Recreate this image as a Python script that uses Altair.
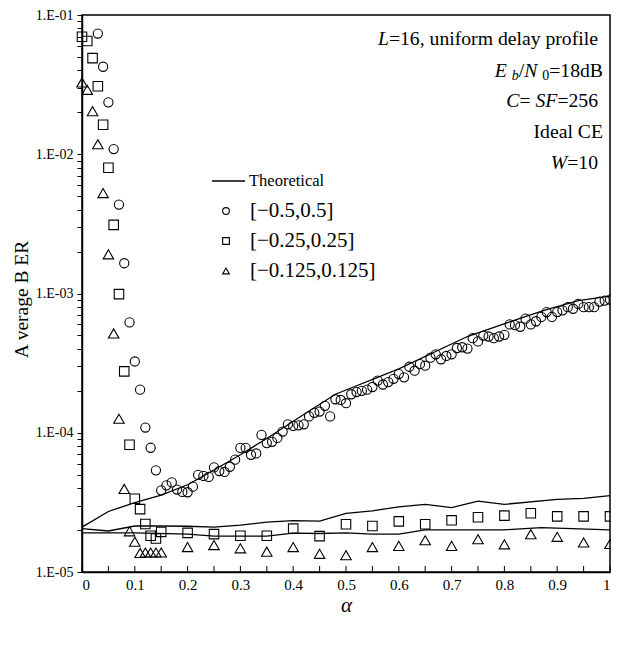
import altair as alt
import pandas as pd

# ---------------- data ----------------
circ_alpha = [round(0.03 + 0.01 * i, 2) for i in range(98)]
circ_ber = [7.36e-2, 4.25e-2, 2.36e-2, 1.09e-2, 4.35e-3, 1.65e-3, 6.2e-4, 3.25e-4, 2.04e-4, 1.09e-4,
            7.8e-5, 5.37e-5, 3.86e-5, 4.19e-5, 4.40e-5, 3.91e-5, 3.76e-5, 3.74e-5, 4.10e-5, 4.98e-5,
            4.90e-5, 4.82e-5, 5.64e-5, 5.31e-5, 5.23e-5, 5.70e-5, 6.41e-5, 7.78e-5, 7.78e-5, 6.95e-5,
            7.10e-5, 9.65e-5, 8.43e-5, 8.61e-5, 9.18e-5, 1.02e-4, 1.15e-4, 1.12e-4, 1.13e-4, 1.15e-4,
            1.31e-4, 1.39e-4, 1.42e-4, 1.56e-4, 1.31e-4, 1.74e-4, 1.72e-4, 1.63e-4, 1.89e-4, 1.96e-4,
            2.00e-4, 2.04e-4, 2.13e-4, 2.37e-4, 2.22e-4, 2.31e-4, 2.44e-4, 2.64e-4, 2.50e-4, 2.98e-4,
            2.79e-4, 3.11e-4, 3.03e-4, 3.46e-4, 3.66e-4, 3.37e-4, 3.56e-4, 3.66e-4, 4.06e-4, 4.11e-4,
            4.02e-4, 4.78e-4, 4.53e-4, 4.99e-4, 4.91e-4, 4.78e-4, 4.91e-4, 5.05e-4, 6.00e-4, 5.93e-4,
            5.77e-4, 6.60e-4, 6.00e-4, 6.32e-4, 6.79e-4, 7.36e-4, 6.79e-4, 7.36e-4, 7.57e-4, 7.98e-4,
            7.77e-4, 8.42e-4, 7.98e-4, 7.98e-4, 7.98e-4, 8.75e-4, 8.89e-4, 9.04e-4]

sq_alpha = [0.0, 0.01, 0.02, 0.03, 0.04, 0.05, 0.06, 0.07, 0.08, 0.09, 0.10, 0.11, 0.12, 0.13, 0.14, 0.15,
            0.20, 0.25, 0.30, 0.35, 0.40, 0.45, 0.50, 0.55, 0.60, 0.65, 0.70, 0.75, 0.80, 0.85, 0.90, 0.95, 1.0]
sq_ber = [6.98e-2, 6.5e-2, 4.9e-2, 3.08e-2, 1.63e-2, 8.0e-3, 3.11e-3, 9.9e-4, 2.76e-4, 8.2e-5,
          3.36e-5, 2.83e-5, 2.21e-5, 1.82e-5, 1.74e-5, 1.94e-5,
          1.91e-5, 1.87e-5, 1.82e-5, 1.82e-5, 2.05e-5, 1.81e-5, 2.20e-5, 2.14e-5, 2.31e-5, 2.20e-5,
          2.35e-5, 2.47e-5, 2.54e-5, 2.64e-5, 2.51e-5, 2.51e-5, 2.51e-5]

tri_alpha = list(sq_alpha)
tri_ber = [3.28e-2, 2.9e-2, 2.04e-2, 1.18e-2, 5.26e-3, 1.91e-3, 5.17e-4, 1.26e-4, 3.95e-5, 1.96e-5,
           1.65e-5, 1.37e-5, 1.38e-5, 1.38e-5, 1.38e-5, 1.38e-5,
           1.51e-5, 1.56e-5, 1.48e-5, 1.40e-5, 1.51e-5, 1.35e-5, 1.32e-5, 1.51e-5, 1.54e-5, 1.69e-5,
           1.54e-5, 1.72e-5, 1.58e-5, 1.87e-5, 1.79e-5, 1.63e-5, 1.59e-5]

th1_alpha = [0.0, 0.05, 0.10, 0.15, 0.20, 0.25, 0.30, 0.35, 0.40, 0.48, 0.60, 0.73, 0.81, 0.875, 0.94, 1.0]
th1_ber = [2.10e-5, 2.72e-5, 3.15e-5, 3.56e-5, 4.23e-5, 5.40e-5, 6.95e-5, 9.10e-5, 1.21e-4, 1.89e-4,
           2.88e-4, 4.91e-4, 6.25e-4, 7.56e-4, 8.89e-4, 9.59e-4]

th2_alpha = [0.0, 0.05, 0.10, 0.15, 0.20, 0.25, 0.30, 0.35, 0.40, 0.45, 0.50, 0.55, 0.60, 0.65, 0.70,
             0.75, 0.80, 0.90, 0.95, 1.0]
th2_ber = [2.05e-5, 1.97e-5, 2.14e-5, 2.14e-5, 2.13e-5, 2.10e-5, 2.17e-5, 2.28e-5, 2.34e-5, 2.32e-5,
           2.64e-5, 2.75e-5, 2.94e-5, 3.06e-5, 2.90e-5, 3.23e-5, 3.06e-5, 3.32e-5, 3.38e-5, 3.54e-5]

th3_alpha = [0.0, 0.10, 0.20, 0.25, 0.30, 0.35, 0.40, 0.45, 0.50, 0.55, 0.60, 0.65, 0.70, 0.80, 0.87, 1.0]
th3_ber = [1.91e-5, 1.91e-5, 1.87e-5, 1.81e-5, 1.81e-5, 1.81e-5, 1.90e-5, 1.89e-5, 1.91e-5, 1.87e-5,
           1.87e-5, 2.01e-5, 2.01e-5, 2.01e-5, 2.08e-5, 2.01e-5]

series_labels = ["[\u22120.5,0.5]", "[\u22120.25,0.25]", "[\u22120.125,0.125]"]
theory_label = "Theoretical"
x_tick_labels = [0, 0.1, 0.2, 0.3, 0.4, 0.5, 0.6, 0.7, 0.8, 0.9, 1]
x_minor_ticks = [round(0.05 * i, 2) for i in range(21)]
y_tick_values = [float(f"{m}e{e}") for e in range(-5, -1) for m in range(1, 10)] + [0.1]

annot_lines = [
    [("L", "i", 0), (" =16, uniform delay profile", "n", 0)],
    [("E", "i", 0), (" ", "n", 0), ("b", "i", 1), ("/", "n", 0), ("N", "i", 0), (" ", "n", 0),
     ("0", "n", 1), ("=18dB", "n", 0)],
    [("C", "i", 0), (" =", "n", 0), ("SF", "i", 0), (" =256", "n", 0)],
    [("Ideal CE", "n", 0)],
    [("W", "i", 0), (" =10", "n", 0)],
]

# ---------------- layout ----------------
W, H = 528, 557
FONT = "Liberation Serif"
AFS, SFS = 19.7, 14          # annotation font size, subscript size
ANNOT_RIGHT = 521            # right edge of the annotation block (plot px)
ANNOT_Y = [24, 56, 86, 117, 148]

REG = {' ': 250, ',': 250, '.': 250, '/': 278, '=': 564, 'B': 667, 'C': 667, 'D': 722, 'E': 611,
       'I': 333, 'a': 444, 'b': 500, 'd': 500, 'e': 444, 'f': 333, 'i': 278, 'l': 278, 'm': 778,
       'n': 500, 'o': 500, 'p': 500, 'r': 333, 'u': 500, 'y': 500, 'c': 444, 't': 278}
ITA = {'L': 556, 'E': 611, 'N': 667, 'C': 667, 'S': 500, 'F': 611, 'W': 833, 'b': 500}


def seg_width(text, style, size):
    tab = ITA if style == "i" else REG
    return sum(tab.get(ch, REG.get(ch, 500)) for ch in text) / 1000.0 * size


rows = []
for line, ly in zip(annot_lines, ANNOT_Y):
    sizes = [SFS if sub else AFS for _, _, sub in line]
    total = sum(seg_width(t, s, fs) for (t, s, _), fs in zip(line, sizes))
    x = ANNOT_RIGHT - total
    for (t, s, sub), fs in zip(line, sizes):
        rows.append({"px": x, "py": ly + (5 if sub else 0), "txt": t, "st": s, "fs": fs})
        x += seg_width(t, s, fs)
annot_df = pd.DataFrame(rows)

# ---------------- data frames ----------------
circ_df = pd.DataFrame({"alpha": circ_alpha, "ber": circ_ber})
sq_df = pd.DataFrame({"alpha": sq_alpha, "ber": sq_ber})
tri_df = pd.DataFrame({"alpha": tri_alpha, "ber": tri_ber})
th_df = pd.concat([
    pd.DataFrame({"alpha": th1_alpha, "ber": th1_ber, "s": "a"}),
    pd.DataFrame({"alpha": th2_alpha, "ber": th2_ber, "s": "b"}),
    pd.DataFrame({"alpha": th3_alpha, "ber": th3_ber, "s": "c"}),
])

xs = alt.Scale(domain=[0, 1], nice=False, zero=False)
ys = alt.Scale(type="log", domain=[1e-5, 1e-1], nice=False)

y_label_expr = ("abs(log(datum.value)/LN10 - round(log(datum.value)/LN10)) < 0.001 ? "
                "'1.E-0' + (-round(log(datum.value)/LN10)) : ''")

x_axis = alt.Axis(values=x_tick_labels, format="~g", ticks=False, tickSize=0, labelPadding=12,
                  labelFont=FONT, labelFontSize=15, labelColor="black", domainColor="black",
                  domainWidth=1.5, grid=False, title="\u03b1", titleFont=FONT, titleFontSize=21,
                  titleFontStyle="italic", titleFontWeight="normal", titleColor="black",
                  titleBaseline="middle", titleY=33, labelBaseline="middle")
y_axis = alt.Axis(values=y_tick_values, labelExpr=y_label_expr, labelOverlap=False, tickSize=5,
                  tickColor="black", tickWidth=1, labelPadding=4, labelFont=FONT, labelFontSize=14,
                  labelColor="black", domainColor="black", domainWidth=1.5, grid=False,
                  title="A verage B ER", titleFont=FONT, titleFontSize=19.5, titleFontWeight="normal",
                  titleColor="black", titleX=-61, titleY=284, titleBaseline="middle")

lines = alt.Chart(th_df).mark_line(color="black", strokeWidth=1.3).encode(
    x=alt.X("alpha:Q", scale=xs, axis=x_axis),
    y=alt.Y("ber:Q", scale=ys, axis=y_axis),
    detail="s:N",
)

def pts(df, shape, size):
    return alt.Chart(df).mark_point(shape=shape, size=size, filled=False, color="black",
                                    strokeWidth=1.1, opacity=1).encode(
        x=alt.X("alpha:Q", scale=xs), y=alt.Y("ber:Q", scale=ys))

circles = pts(circ_df, "circle", 85)
squares = pts(sq_df, "square", 90)
triangles = pts(tri_df, "triangle-up", 110)

ticks_df = pd.DataFrame({"alpha": x_minor_ticks})
xticks = alt.Chart(ticks_df).mark_rule(color="black", strokeWidth=1).encode(
    x=alt.X("alpha:Q", scale=xs), y=alt.value(H), y2=alt.value(H - 6))

# annotations
def annot_layer(style):
    return alt.Chart(annot_df).transform_filter(alt.datum.st == style).mark_text(
        align="left", baseline="middle", font=FONT, color="black",
        fontStyle="italic" if style == "i" else "normal").encode(
        x=alt.X("px:Q", scale=None), y=alt.Y("py:Q", scale=None),
        text="txt:N", size=alt.Size("fs:Q", scale=None))

# legend (drawn by hand)
LEG_X0, LEG_X1, LEG_Y0, LEG_DY = 130, 163, 166, 30
LEG_MX, LEG_TX = 144, 168
leg_line = alt.Chart(pd.DataFrame({"k": [0]})).mark_rule(color="black", strokeWidth=1.3).encode(
    x=alt.value(LEG_X0), x2=alt.value(LEG_X1), y=alt.value(LEG_Y0))
leg_txt_df = pd.DataFrame({
    "px": [LEG_X1 + 4, LEG_TX, LEG_TX, LEG_TX],
    "py": [LEG_Y0 + LEG_DY * i for i in range(4)],
    "txt": [theory_label] + series_labels,
    "fs": [16.5, 21, 21, 21],
})
leg_txt = alt.Chart(leg_txt_df).mark_text(align="left", baseline="middle", font=FONT,
                                          color="black").encode(
    x=alt.X("px:Q", scale=None), y=alt.Y("py:Q", scale=None), text="txt:N",
    size=alt.Size("fs:Q", scale=None))
leg_pts_df = pd.DataFrame({
    "px": [LEG_MX] * 3,
    "py": [LEG_Y0 + LEG_DY * i for i in range(1, 4)],
    "shp": ["circle", "square", "triangle-up"],
})
leg_pts = alt.Chart(leg_pts_df).mark_point(filled=False, color="black", size=45,
                                           strokeWidth=1.1, opacity=1).encode(
    x=alt.X("px:Q", scale=None), y=alt.Y("py:Q", scale=None),
    shape=alt.Shape("shp:N", scale=None, legend=None))

chart = alt.layer(
    lines, circles, squares, triangles, xticks,
    annot_layer("n"), annot_layer("i"), leg_line, leg_txt, leg_pts,
).properties(
    width=W, height=H,
    autosize=alt.AutoSizeParams(type="none"),
    padding={"left": 74, "top": 7, "right": 1, "bottom": 45},
    background="white",
).configure_view(stroke="black", strokeWidth=1.5)

chart.save("out.html", embed_options={"renderer": "svg", "actions": False})
